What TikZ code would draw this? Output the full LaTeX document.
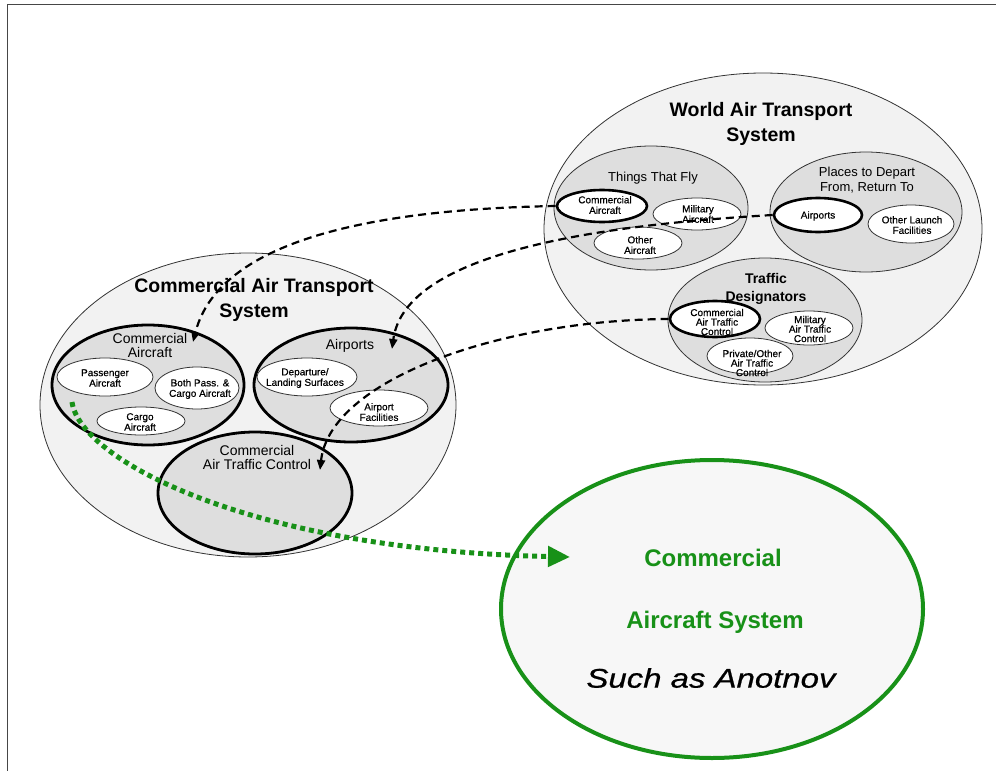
\documentclass[tikz,border=0pt]{standalone}
\usepackage{fontspec}
\usepackage{graphicx}
\setmainfont{Liberation Sans}
\newfontfamily\leaffont[FakeBold=0.5]{Liberation Sans}
\newfontfamily\slantfont[FakeBold=0.6]{Liberation Sans Italic}
\usetikzlibrary{shapes.geometric,arrows.meta}
\definecolor{grn}{RGB}{24,145,24}
\definecolor{outerfill}{RGB}{242,242,242}
\definecolor{catfill}{RGB}{222,222,222}
\definecolor{framegray}{RGB}{70,70,70}
\newcommand{\fs}[2]{\fontsize{#1}{#2}\selectfont}
\tikzset{
  ell/.style args={#1/#2}{ellipse, inner sep=0pt, minimum width=#1, minimum height=#2},
  outerell/.style={ell=#1, draw=black!80, line width=0.8pt, fill=outerfill},
  catell/.style={ell=#1, draw=black!80, line width=0.8pt, fill=catfill},
  keyell/.style={ell=#1, draw=black, line width=2.8pt, fill=catfill},
  leafell/.style={ell=#1, draw=black!80, line width=0.8pt, fill=white},
  keyleaf/.style={ell=#1, draw=black, line width=2.6pt, fill=white},
  lbl/.style={inner sep=0pt, align=center},
  leaftxt/.style={lbl, font=\leaffont\fs{10}{10.5}},
  tighttxt/.style={lbl, font=\leaffont\fs{10}{9.5}},
  dashconn/.style={draw=black, line width=2.2pt, dash pattern=on 8pt off 5pt,
    -{Triangle[length=10pt,width=8pt]}},
  greenconn/.style={draw=grn, line width=5pt, dash pattern=on 5pt off 4pt,
    -{Triangle[length=22pt,width=20pt]}}
}
\begin{document}
\begin{tikzpicture}[x=1pt,y=-1pt]
\useasboundingbox (0,0) rectangle (996,771);
% page frame
\draw[framegray, line width=1.5pt] (7.5,771) -- (7.5,4.5) -- (996,4.5);

% ---------- world air transport system ----------
\node[outerell=438pt/312pt] (world) at (763,229) {};
\node[lbl, font=\fs{19.5}{25}\bfseries] (worldT) at (761,124) {World Air Transport\\System};

\node[catell=194pt/124pt] (fly) at (651,208) {};
\node[lbl, font=\fs{13}{15}] (flyT) at (653,178) {Things That Fly};
\node[keyleaf=90pt/32pt] (wCA) at (602,206) {};
\node[leaftxt] (wCAt) at (605,205) {Commercial\\Aircraft};
\node[leafell=88pt/32pt] (wMA) at (697,214) {};
\node[leaftxt] (wMAt) at (698,214) {Military\\Aircraft};
\node[leafell=88pt/32pt] (wOA) at (638,243) {};
\node[leaftxt] (wOAt) at (640,245) {Other\\Aircraft};

\node[catell=192pt/120pt] (depart) at (866,212) {};
\node[lbl, font=\fs{13}{15}] (departT) at (867,180) {Places to Depart\\From, Return To};
\node[keyleaf=88pt/34pt] (wAP) at (818,215) {};
\node[leaftxt] (wAPt) at (818,216) {Airports};
\node[leafell=86pt/38pt] (wOL) at (911,224) {};
\node[leaftxt] (wOLt) at (912,225) {Other Launch\\Facilities};

\node[catell=194pt/124pt] (traffic) at (765,320) {};
\node[lbl, font=\fs{14}{18}\bfseries] (trafficT) at (766,289) {Traffic\\Designators};
\node[leafell=88pt/34pt] (wMT) at (809,328) {};
\node[tighttxt] (wMTt) at (810,329) {Military\\Air Traffic\\Control};
\node[leafell=86pt/36pt] (wPT) at (750,356) {};
\node[tighttxt] (wPTt) at (752,363) {Private/Other\\Air Traffic\\Control};
\node[keyleaf=90pt/36pt] (wCT) at (715,319) {};
\node[tighttxt] (wCTt) at (717,322) {Commercial\\Air Traffic\\Control};

% ---------- commercial air transport system ----------
\node[outerell=416pt/304pt] (cats) at (248,405) {};
\node[lbl, font=\fs{19.5}{25}\bfseries] (catsT) at (254,300) {Commercial Air Transport\\System};

\node[keyell=192pt/120pt] (lCA) at (148,385) {};
\node[lbl, font=\fs{14}{14}] (lCAT) at (150,345) {Commercial\\Aircraft};
\node[leafell=96pt/38pt] (lPA) at (105,377) {};
\node[leaftxt] (lPAt) at (105,378) {Passenger\\Aircraft};
\node[leafell=84pt/42pt] (lBP) at (197,388) {};
\node[leaftxt] (lBPt) at (200,389) {Both Pass. \&\\Cargo Aircraft};
\node[leafell=88pt/28pt] (lCG) at (141,421) {};
\node[leaftxt] (lCGt) at (140,422) {Cargo\\Aircraft};

\node[keyell=194pt/114pt] (lAP) at (351,385) {};
\node[lbl, font=\fs{14}{14}] (lAPT) at (350,346) {Airports};
\node[leafell=100pt/38pt] (lDL) at (307,377) {};
\node[leaftxt] (lDLt) at (305,378) {Departure/\\Landing Surfaces};
\node[leafell=98pt/36pt] (lAF) at (379,408) {};
\node[leaftxt] (lAFt) at (379,412) {Airport\\Facilities};

\node[keyell=194pt/122pt] (lCT) at (255,493) {};
\node[lbl, font=\fs{14}{14}] (lCTT) at (257,457) {Commercial\\Air Traffic Control};

% ---------- commercial aircraft system ----------
\node[ell=422pt/298pt, draw=grn, line width=4pt, fill=black!3] (cas) at (712,609) {};
\node[lbl, font=\fs{24}{24}\bfseries, text=grn] (casA) at (713,558) {Commercial};
\node[lbl, font=\fs{24}{24}\bfseries, text=grn] (casB) at (715,622) {Aircraft System};
\node[lbl] (casC) at (711,678) {\scalebox{1.22}[1]{\slantfont\fs{27}{27}Such as Anotnov}};

% ---------- connectors ----------
\coordinate (tipCA) at (193,342);
\coordinate (tipAP) at (392,349);
\coordinate (tipCT) at (320,470);
\coordinate (gStart) at (72,402);
\coordinate (gTip) at (570,557);

\draw[dashconn] (wCA.west) .. controls (330,210) and (215,255) .. (tipCA);
\draw[dashconn] (wAP.west) .. controls (600,225) and (405,252) .. (tipAP);
\draw[dashconn] (wCT.west) .. controls (500,320) and (330,380) .. (tipCT);
\draw[greenconn] (gStart) .. controls (80,460) and (250,550) .. (gTip);
\end{tikzpicture}
\end{document}
